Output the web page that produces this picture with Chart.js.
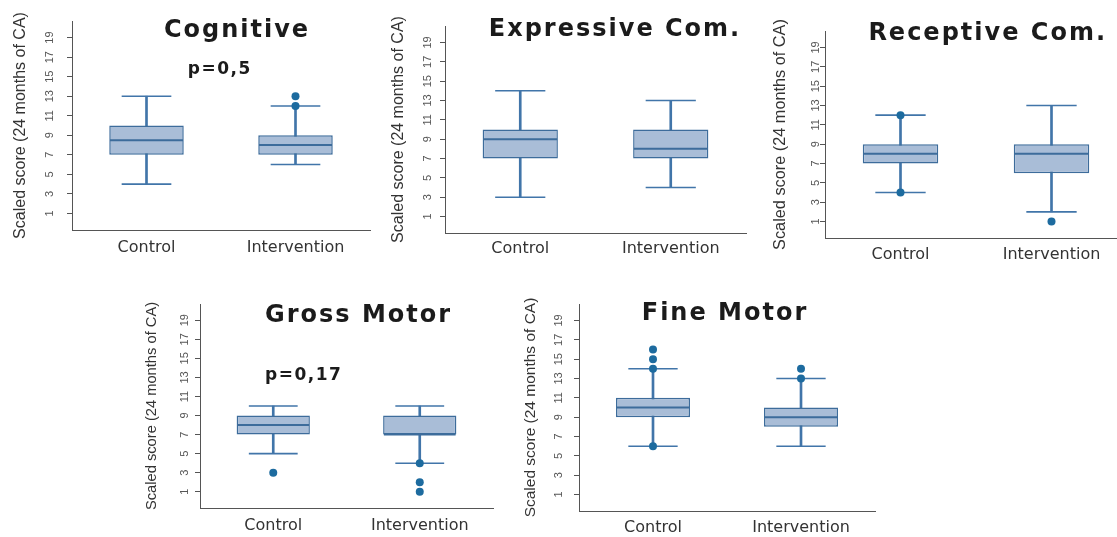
<!DOCTYPE html>
<html>
<head>
<meta charset="utf-8">
<script src="https://cdn.jsdelivr.net/npm/chart.js@4.4.1/dist/chart.umd.min.js"></script>
<style>
  html, body { margin: 0; padding: 0; background: #ffffff; }
  body { position: relative; width: 1117px; height: 537px; overflow: hidden; }
  canvas { position: absolute; }
</style>
</head>
<body>
<script>
// ---------------- data ----------------
const CATEGORIES = ['Control', 'Intervention'];
const PANEL_TITLES = ['Cognitive', 'Expressive Com.', 'Receptive Com.', 'Gross Motor', 'Fine Motor'];
const P_VALUES = ['p=0,5', '', '', 'p=0,17', ''];
const Y_TITLE = 'Scaled score (24 months of CA)';
const Y_TICKS = [1, 3, 5, 7, 9, 11, 13, 15, 17, 19];

// per panel: [Control, Intervention]
const WHISKER_LOW  = [[4, 6],   [3, 4],  [4, 2], [5, 4], [6, 6]];
const Q1           = [[7, 7],   [7, 7],  [7, 6], [7, 7], [9, 8]];
const MEDIAN       = [[8.5, 8], [9, 8],  [8, 8], [8, 7], [10, 9]];
const Q3           = [[10, 9],  [10, 10],[9, 9], [9, 9], [11, 10]];
const WHISKER_HIGH = [[13, 12], [14, 13],[12, 13],[10, 10],[14, 13]];
const OUTLIERS = [
  [[], [12, 13]],
  [[], []],
  [[12, 4], [1]],
  [[3], [4, 2, 1]],
  [[16, 15, 14, 6], [14, 13]]
];

// ---------------- layout / style ----------------
const Y_MIN = -0.7, Y_MAX = 20.7;
const LAYOUT = [
  { left: 72,  right: 370,  top: 21,  bottom: 230, yTitlePad: 14.1, yTitleSize: 16,   tickPad: 10.9, xPad: 7.9, title: [236, 28.5],   p: [219, 67.8] },
  { left: 445, right: 746,  top: 26,  bottom: 233, yTitlePad: 18.7, yTitleSize: 16,   tickPad: 5.6,  xPad: 6.4, title: [614, 27.5],   p: null },
  { left: 825, right: 1127, top: 31,  bottom: 238, yTitlePad: 20.9, yTitleSize: 16.3, tickPad: -2.5, xPad: 7.4, title: [986.7, 31.3], p: null },
  { left: 200, right: 493,  top: 304, bottom: 508, yTitlePad: 17.9, yTitleSize: 14.7, tickPad: 3.9,  xPad: 8.4, title: [357.5, 313.3], p: [303, 374] },
  { left: 579, right: 875,  top: 304, bottom: 511, yTitlePad: 17.4, yTitleSize: 15.5, tickPad: 8.6,  xPad: 7.7, title: [724, 311.3],  p: null }
];
const W_Y = 75, H_X = 35, PAD_T = 25, PAD_R = 15;
const BOX_FILL = '#a9bdd7';
const BOX_EDGE = '#3d6c9b';
const WHISKER = '#4175a9';
const DOT = '#1d6b9f';
const AXIS = '#555555';
const SANS = "'Liberation Sans', Arial, sans-serif";
const WIDE = "'DejaVu Sans', Verdana, sans-serif";

function textPlugin(items, cLeft, cTop) {
  return {
    id: 'panelText',
    afterDraw(chart) {
      const ctx = chart.ctx;
      ctx.save();
      ctx.fillStyle = '#1b1b1b';
      ctx.textAlign = 'center';
      ctx.textBaseline = 'alphabetic';
      items.forEach(it => {
        ctx.letterSpacing = it.spacing + 'px';
        ctx.font = 'bold ' + it.size + 'px ' + WIDE;
        ctx.fillText(it.text, it.x - cLeft + it.spacing / 2, it.y - cTop + it.size * 0.729 / 2);
      });
      ctx.restore();
    }
  };
}

function makeChart(i) {
  const L = LAYOUT[i];
  const cLeft = L.left - W_Y, cTop = L.top - PAD_T;
  const cW = L.right - L.left + W_Y + PAD_R;
  const cH = L.bottom - L.top + PAD_T + H_X;
  const canvas = document.createElement('canvas');
  canvas.width = cW; canvas.height = cH;
  canvas.style.left = cLeft + 'px';
  canvas.style.top = cTop + 'px';
  canvas.style.width = cW + 'px';
  canvas.style.height = cH + 'px';
  document.body.appendChild(canvas);

  const plotW = L.right - L.left;
  const items = [{ text: PANEL_TITLES[i], x: L.title[0], y: L.title[1], size: 24, spacing: 2 }];
  if (P_VALUES[i]) items.push({ text: P_VALUES[i], x: L.p[0], y: L.p[1], size: 17, spacing: 1.5 });

  new Chart(canvas, {
    type: 'bar',
    data: {
      labels: CATEGORIES,
      datasets: [
        {
          type: 'bar', label: 'whisker',
          data: CATEGORIES.map((c, j) => [WHISKER_LOW[i][j], WHISKER_HIGH[i][j]]),
          backgroundColor: WHISKER, borderWidth: 0, barThickness: 2, grouped: false, order: 4
        },
        {
          type: 'bar', label: 'box',
          data: CATEGORIES.map((c, j) => [Q1[i][j], Q3[i][j]]),
          backgroundColor: BOX_FILL, borderColor: BOX_EDGE, borderWidth: 1.5, borderSkipped: false,
          barPercentage: 0.5, categoryPercentage: 1, grouped: false, order: 3
        },
        {
          type: 'line', label: 'median',
          data: CATEGORIES.map((c, j) => ({ x: c, y: MEDIAN[i][j] })),
          showLine: false, pointStyle: 'line', pointRadius: plotW / 8 - 0.75,
          pointBorderColor: BOX_EDGE, pointBorderWidth: 2, order: 2
        },
        {
          type: 'line', label: 'caps',
          data: CATEGORIES.flatMap((c, j) => [{ x: c, y: WHISKER_LOW[i][j] }, { x: c, y: WHISKER_HIGH[i][j] }]),
          showLine: false, pointStyle: 'line', pointRadius: plotW / 12,
          pointBorderColor: WHISKER, pointBorderWidth: 1.6, order: 1
        },
        {
          type: 'line', label: 'outliers',
          data: CATEGORIES.flatMap((c, j) => OUTLIERS[i][j].map(v => ({ x: c, y: v }))),
          showLine: false, pointStyle: 'circle', pointRadius: 4,
          pointBackgroundColor: DOT, pointBorderColor: DOT, pointBorderWidth: 0, order: 0
        }
      ]
    },
    options: {
      responsive: false,
      animation: false,
      events: [],
      layout: { autoPadding: false, padding: { left: 0, right: PAD_R, top: PAD_T, bottom: 0 } },
      plugins: { legend: { display: false }, tooltip: { enabled: false }, title: { display: false } },
      scales: {
        x: {
          type: 'category', offset: true,
          grid: { display: false, drawTicks: false },
          border: { display: true, color: AXIS, width: 1 },
          ticks: { font: { family: WIDE, size: 16 }, color: '#333', padding: L.xPad, maxRotation: 0, autoSkip: false },
          afterFit: s => { s.height = H_X; s.paddingLeft = 0; s.paddingRight = 0; }
        },
        y: {
          type: 'linear', min: Y_MIN, max: Y_MAX,
          afterBuildTicks: s => { s.ticks = Y_TICKS.map(v => ({ value: v })); },
          afterFit: s => { s.width = W_Y; s.paddingTop = 0; s.paddingBottom = 0; },
          grid: { drawOnChartArea: false, drawTicks: true, tickLength: 5, color: AXIS, tickWidth: 1 },
          border: { display: true, color: AXIS, width: 1 },
          ticks: {
            autoSkip: false, minRotation: 90, maxRotation: 90, crossAlign: 'center',
            padding: L.tickPad, font: { family: SANS, size: 11 }, color: '#555'
          },
          title: {
            display: true, text: Y_TITLE, color: '#333',
            font: { family: SANS, size: L.yTitleSize },
            padding: { top: L.yTitlePad, bottom: 0 }
          }
        }
      }
    },
    plugins: [textPlugin(items, cLeft, cTop)]
  });
}

for (let i = 0; i < PANEL_TITLES.length; i++) makeChart(i);
</script>
</body>
</html>
